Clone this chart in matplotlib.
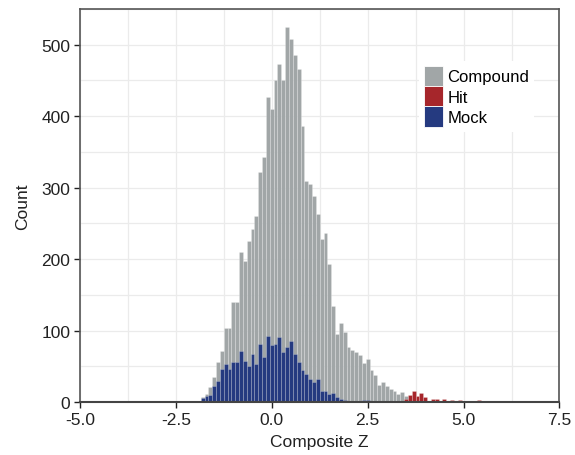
import numpy as np
import matplotlib
matplotlib.use("Agg")
import matplotlib.pyplot as plt
from matplotlib.patches import Patch

plt.rcParams['font.family'] = ['Liberation Sans', 'DejaVu Sans']
plt.rcParams['axes.unicode_minus'] = False

bin_width = 0.1

# Compound counts, bins centred from -1.9 to 3.5
compound_start = -1.9
compound_counts = [2, 7, 12, 21, 35, 56, 72, 103, 103, 140,
                   140, 210, 198, 225, 242, 261, 322, 343, 427, 410,
                   450, 473, 450, 525, 508, 485, 466, 387, 310, 305,
                   289, 263, 228, 237, 193, 135, 95, 111, 98, 77,
                   73, 70, 66, 55, 60, 45, 38, 24, 28, 22,
                   18, 15, 11, 14, 8]

# Hit counts, bins centred from 3.5 to 7.3
hit_start = 3.5
hit_counts = [4, 10, 16, 9, 13, 7, 2, 4, 5, 2,
              5, 2, 3, 1, 3, 0, 0, 2, 2, 3,
              0, 1, 0, 0, 0, 0, 0, 0, 0, 0,
              0, 0, 0, 2, 2, 2, 0, 0, 1]

# Mock counts, bins centred from -1.8 to 3.7
mock_start = -1.8
mock_counts = [6, 8, 10, 22, 30, 46, 54, 46, 56, 56,
               72, 57, 51, 68, 54, 81, 63, 93, 80, 81,
               91, 70, 77, 85, 67, 56, 45, 39, 32, 28,
               32, 16, 15, 11, 13, 7, 4, 3, 1, 1,
               0, 2, 3, 3, 1, 0, 0, 1, 2, 2,
               1, 0, 0, 0, 1, 1]

series = [("Compound", compound_start, compound_counts, "#a1a6a7"),
          ("Hit", hit_start, hit_counts, "#a6262b"),
          ("Mock", mock_start, mock_counts, "#253a80")]

fig = plt.figure(figsize=(5.75, 4.56), dpi=100)
ax = fig.add_axes([0.139, 0.116, 0.834, 0.862])

for name, start, counts, color in series:
    centers = start + bin_width * np.arange(len(counts))
    ax.bar(centers, counts, width=bin_width, color=color,
           edgecolor=(1, 1, 1, 0.35), linewidth=0.4, zorder=2)

ax.set_xlim(-5.0, 7.5)
ax.set_ylim(0, 550)
ax.set_xticks([-5.0, -2.5, 0.0, 2.5, 5.0, 7.5])
ax.set_xticklabels(["-5.0", "-2.5", "0.0", "2.5", "5.0", "7.5"])
ax.set_xticks(np.arange(-5.0, 7.6, 1.25), minor=True)
ax.set_yticks([0, 100, 200, 300, 400, 500])
ax.set_yticks(np.arange(0, 551, 50), minor=True)
ax.grid(which='both', color='#ebebeb', linewidth=0.9, zorder=0)
ax.set_axisbelow(True)

ax.tick_params(which='major', labelsize=12.5, colors='#222222', length=4,
               width=1, pad=3)
ax.tick_params(which='minor', length=0)
for s in ax.spines.values():
    s.set_color('#555555')
    s.set_linewidth(1.2)
ax.spines['bottom'].set_linewidth(1.5)
ax.spines['bottom'].set_color('#444444')

ax.set_xlabel("Composite Z", fontsize=12.5, color='#222222', labelpad=5)
ax.set_ylabel("Count", fontsize=12.5, color='#222222', labelpad=8)

handles = [Patch(facecolor=c, edgecolor='white', linewidth=0.6)
           for _, _, _, c in series]
leg = ax.legend(handles, [n for n, _, _, _ in series],
                loc='upper left', bbox_to_anchor=(0.69, 0.89),
                fontsize=12, frameon=True, framealpha=1, facecolor='white',
                edgecolor='none', handlelength=1.15, handleheight=1.5,
                handletextpad=0.25, labelspacing=0.0, borderpad=0.3)

fig.savefig("out.png", dpi=100)
